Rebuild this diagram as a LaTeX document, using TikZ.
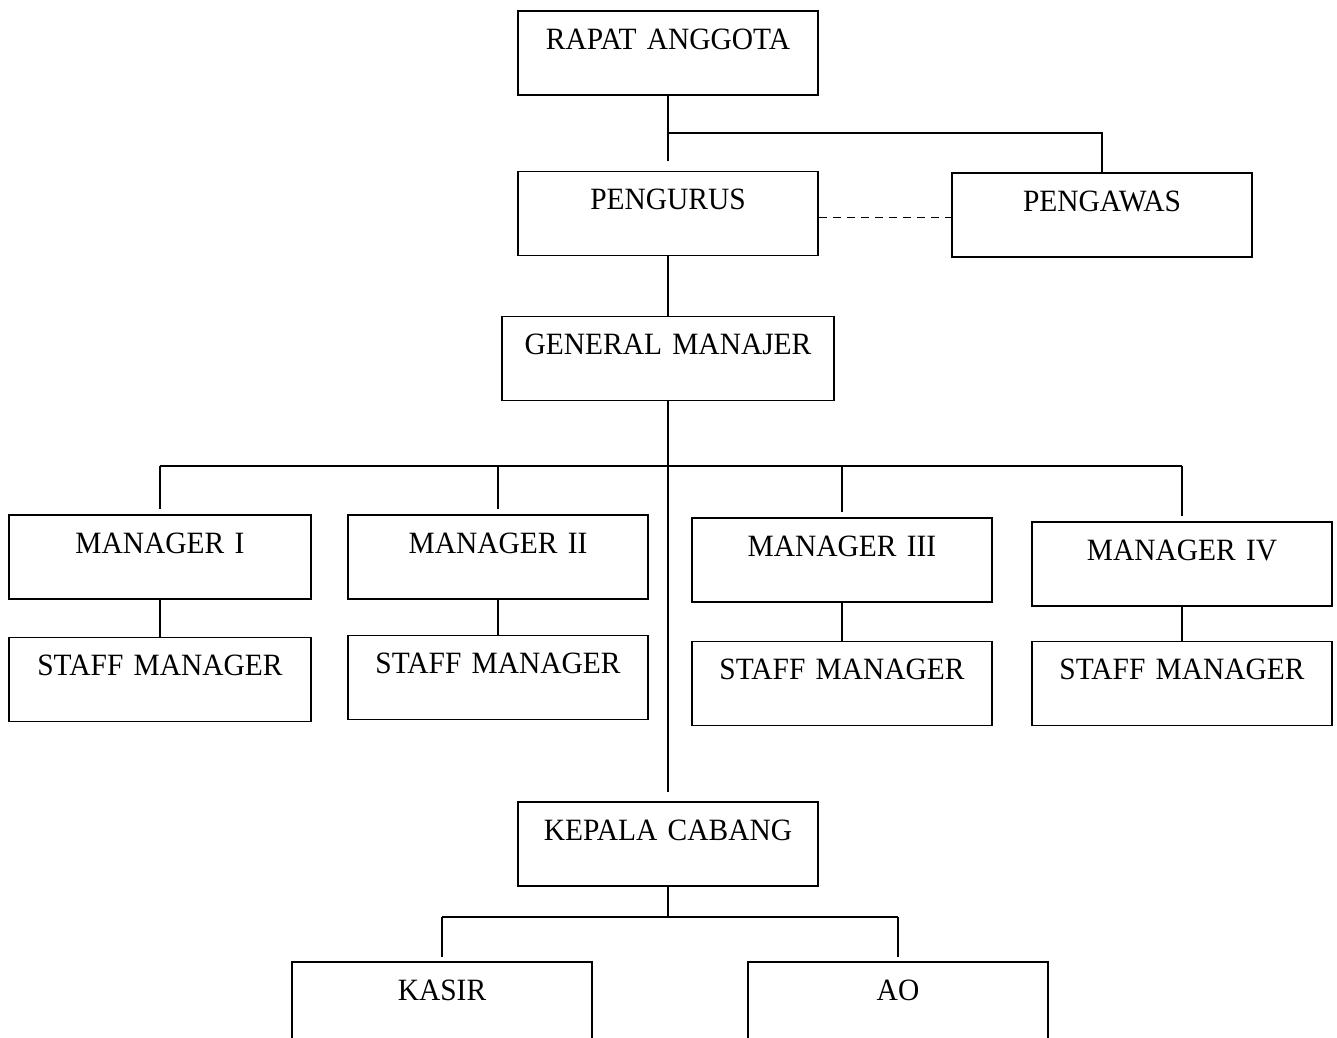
\documentclass[tikz,border=0pt]{standalone}
\usepackage{fontspec}
\setmainfont[FakeStretch=0.95]{Liberation Serif}
\begin{document}
\begin{tikzpicture}[x=1pt,y=1pt,
  box/.style={draw, line width=1.8pt, inner sep=0pt, align=center,
    text width=#1, text height=38pt, text depth=46pt,
    font=\fontsize{31}{36}\selectfont},
  box/.default=300pt,
  conn/.style={line width=1.8pt}]
\clip (0,0) rectangle (1337,-1037);
\fill[white] (0,0) rectangle (1337,-1037);
% boxes
\node[box] (ra) at (668,-53) {RAPAT ANGGOTA};
\node[box] (pg) at (668,-213.5) {PENGURUS};
\node[box] (pw) at (1102,-215) {PENGAWAS};
\node[box=332pt] (gm) at (668,-358.5) {GENERAL MANAJER};
\node[box=302pt] (m1) at (160,-557) {MANAGER I};
\node[box] (m2) at (498,-557) {MANAGER II};
\node[box] (m3) at (842,-560) {MANAGER III};
\node[box] (m4) at (1182,-564) {MANAGER IV};
\node[box=302pt] (s1) at (160,-679.5) {STAFF MANAGER};
\node[box] (s2) at (498,-677.5) {STAFF MANAGER};
\node[box] (s3) at (842,-683.5) {STAFF MANAGER};
\node[box] (s4) at (1182,-683.5) {STAFF MANAGER};
\node[box] (kc) at (668,-844) {KEPALA CABANG};
\node[box] (ks) at (442,-1004) {KASIR};
\node[box] (ao) at (898,-1004) {AO};
% junctions
\coordinate (j1) at (668,-133);
\coordinate (b) at (668,-466);
\coordinate (c) at (668,-917);
% connectors
\draw[conn, shorten >=10pt] (ra) -- (pg);
\draw[conn] (j1) -| (pw.north);
\draw[conn, dash pattern=on 8pt off 6pt] ([yshift=-4pt]pg.east) -- ([yshift=-4pt]pg.east -| pw.west);
\draw[conn] (pg) -- (gm);
\draw[conn, shorten >=9pt] (gm) -- (kc);
\draw[conn] (m1.north |- b) -- (m4.north |- b);
\foreach \m in {m1,m2,m3,m4}{
  \draw[conn, shorten >=5pt] (\m.north |- b) -- (\m.north);
}
\draw[conn] (m1) -- (s1);
\draw[conn] (m2) -- (s2);
\draw[conn] (m3) -- (s3);
\draw[conn] (m4) -- (s4);
\draw[conn] (kc) -- (c);
\draw[conn] (ks.north |- c) -- (ao.north |- c);
\draw[conn, shorten >=4pt] (ks.north |- c) -- (ks.north);
\draw[conn, shorten >=4pt] (ao.north |- c) -- (ao.north);
\end{tikzpicture}
\end{document}
